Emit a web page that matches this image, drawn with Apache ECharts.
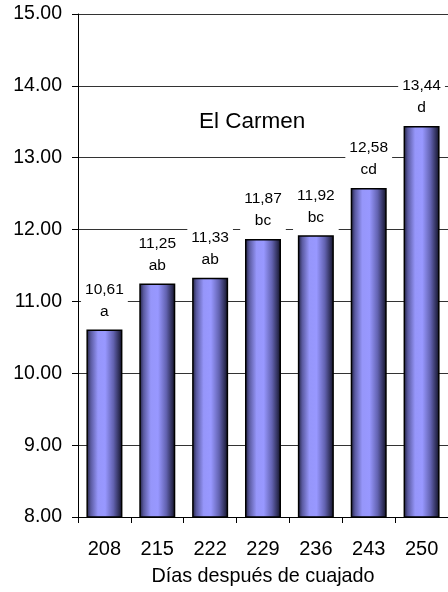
<!DOCTYPE html>
<html>
<head>
<meta charset="utf-8">
<script src="https://cdn.jsdelivr.net/npm/echarts@6/dist/echarts.min.js"></script>
<style>
  html, body { margin: 0; padding: 0; background: #fff; }
  #chart { width: 448px; height: 592px; }
</style>
</head>
<body>
<div id="chart"></div>
<script>
// Días después de cuajado (categories)
const dias = ['208', '215', '222', '229', '236', '243', '250'];
// Mean values per sampling date
const valores = [10.61, 11.25, 11.33, 11.87, 11.92, 12.58, 13.44];
// Significance letters
const letras = ['a', 'ab', 'ab', 'bc', 'bc', 'cd', 'd'];
// Y axis range
const yMin = 8, yMax = 15, yStep = 1;

const FONT = '"Liberation Sans", Arial, Helvetica, sans-serif';

const chart = echarts.init(document.getElementById('chart'), null, { renderer: 'canvas' });

const barFill = new echarts.graphic.LinearGradient(0, 0, 1, 0, [
  { offset: 0.00, color: '#1c1c38' },
  { offset: 0.12, color: '#5a5aa0' },
  { offset: 0.32, color: '#9696fa' },
  { offset: 0.52, color: '#9898ff' },
  { offset: 0.75, color: '#6262b0' },
  { offset: 0.92, color: '#2a2a50' },
  { offset: 1.00, color: '#0e0e1c' }
]);

chart.setOption({
  animation: false,
  backgroundColor: '#ffffff',
  title: {
    text: 'El Carmen',
    left: 199,
    top: 110,
    padding: 0,
    textStyle: { fontFamily: FONT, fontSize: 22.5, fontWeight: 'normal', color: '#000' }
  },
  grid: { left: 78, top: 14, width: 376, bottom: 74, containLabel: false },
  xAxis: {
    type: 'category',
    data: dias,
    name: 'Días después de cuajado',
    nameLocation: 'middle',
    nameGap: 50,
    nameTextStyle: { fontFamily: FONT, fontSize: 19.8, color: '#000' },
    axisLine: { lineStyle: { color: '#000', width: 1 } },
    axisTick: { show: true, length: 6, alignWithLabel: false, lineStyle: { color: '#000' } },
    axisLabel: { fontFamily: FONT, fontSize: 20, color: '#000', margin: 22 },
    splitLine: { show: false }
  },
  yAxis: {
    type: 'value',
    min: yMin,
    max: yMax,
    interval: yStep,
    axisLine: { show: true, lineStyle: { color: '#000', width: 1 } },
    axisTick: { show: true, length: 6, lineStyle: { color: '#000' } },
    axisLabel: {
      fontFamily: FONT, fontSize: 19.5, color: '#000', margin: 16,
      formatter: v => v.toFixed(2)
    },
    splitLine: { show: true, lineStyle: { color: '#333', width: 1 } }
  },
  series: [{
    type: 'bar',
    data: valores,
    barWidth: 36,
    itemStyle: { color: barFill, borderColor: '#000', borderWidth: 1.5 },
    label: {
      show: true,
      position: 'top',
      distance: 5,
      fontFamily: FONT,
      fontSize: 15.5,
      lineHeight: 22,
      color: '#000',
      backgroundColor: '#fff',
      padding: [2, 4, 2, 4],
      align: 'center',
      formatter: p => p.value.toFixed(2).replace('.', ',') + '\n' + letras[p.dataIndex]
    }
  }]
});
</script>
</body>
</html>
